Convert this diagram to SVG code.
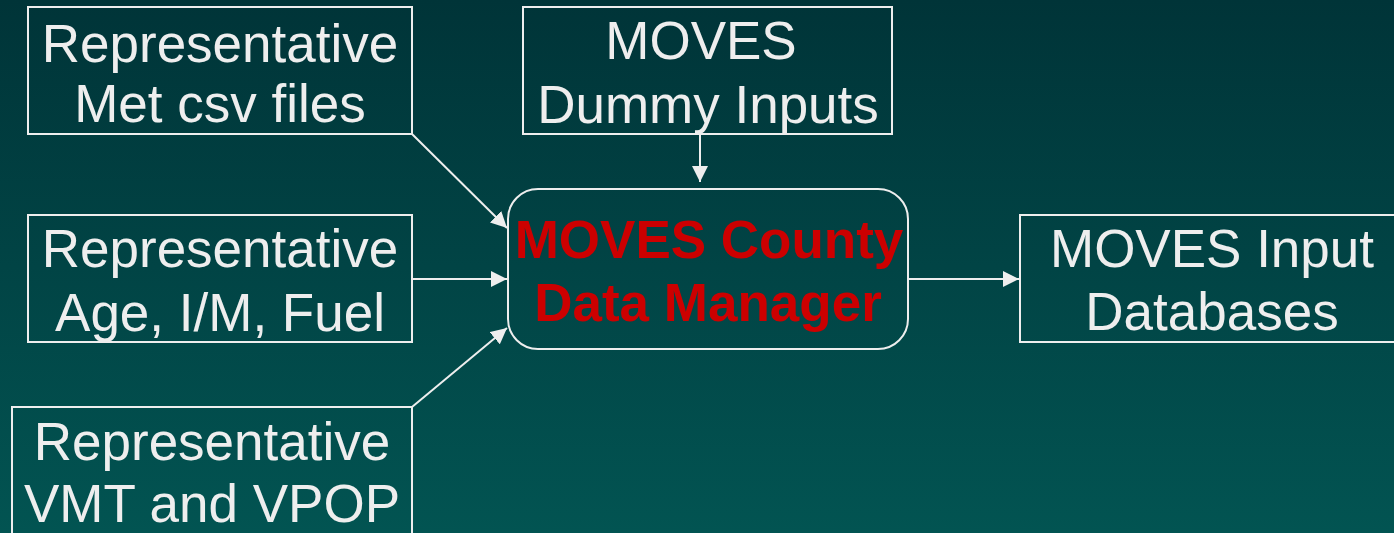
<svg xmlns="http://www.w3.org/2000/svg" width="1394" height="533" viewBox="0 0 1394 533">
<defs>
<linearGradient id="bg" x1="0" y1="0" x2="0" y2="1">
<stop offset="0" stop-color="#003438"/>
<stop offset="1" stop-color="#025452"/>
</linearGradient>
<marker id="ah" markerWidth="16" markerHeight="16" refX="16" refY="8" orient="auto" markerUnits="userSpaceOnUse">
<path d="M0,0 L16,8 L0,16 Z" fill="#EEEEEE"/>
</marker>
<style>
.box{fill:none;stroke:#EEEEEE;stroke-width:2}
.t{font-family:"Liberation Sans",Arial,sans-serif;font-size:53px;fill:#EEEEEE;text-anchor:middle}
.c{font-family:"Liberation Sans",Arial,sans-serif;font-size:53px;font-weight:bold;fill:#CC0000;text-anchor:middle}
.ln{stroke:#EEEEEE;stroke-width:2;fill:none;marker-end:url(#ah)}
</style>
</defs>
<rect width="1394" height="533" fill="url(#bg)"/>
<g id="met">
<rect class="box" x="28" y="7" width="384" height="127"/>
<text class="t" x="220" y="62">Representative</text>
<text class="t" x="220" y="122">Met csv files</text>
</g>
<g id="dummy">
<rect class="box" x="523" y="7" width="369" height="127"/>
<text class="t" x="701" y="59">MOVES</text>
<text class="t" x="708" y="123">Dummy Inputs</text>
</g>
<g id="age">
<rect class="box" x="28" y="215" width="384" height="127"/>
<text class="t" x="220" y="267">Representative</text>
<text class="t" x="220" y="331">Age, I/M, Fuel</text>
</g>
<g id="vmt">
<rect class="box" x="12" y="407" width="400" height="140"/>
<text class="t" x="212" y="460">Representative</text>
<text class="t" x="212" y="522">VMT and VPOP</text>
</g>
<g id="cdm">
<rect class="box" x="508" y="189" width="400" height="160" rx="30" ry="30"/>
<text class="c" x="709" y="258">MOVES County</text>
<text class="c" x="708" y="321">Data Manager</text>
</g>
<g id="out">
<rect class="box" x="1020" y="215" width="390" height="127"/>
<text class="t" x="1212" y="267">MOVES Input</text>
<text class="t" x="1212" y="330">Databases</text>
</g>
<g id="connectors">
<line class="ln" x1="412" y1="134" x2="507" y2="228"/>
<line class="ln" x1="700" y1="134" x2="700" y2="182"/>
<line class="ln" x1="412" y1="279" x2="507" y2="279"/>
<line class="ln" x1="412" y1="407" x2="507" y2="328"/>
<line class="ln" x1="908" y1="279" x2="1019" y2="279"/>
</g>
</svg>
